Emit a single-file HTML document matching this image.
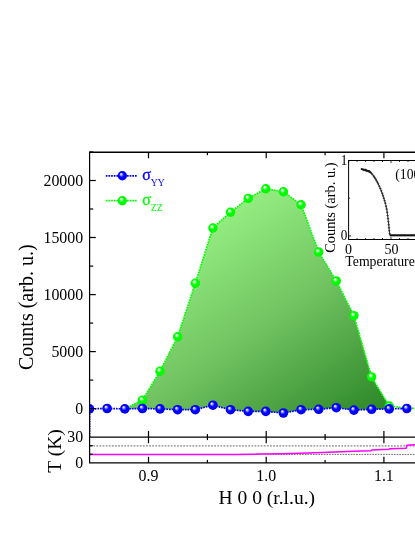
<!DOCTYPE html>
<html><head><meta charset="utf-8"><title>chart</title>
<style>
html,body{margin:0;padding:0;background:#fff;}
body{width:415px;height:537px;overflow:hidden;font-family:"Liberation Serif",serif;}
svg{display:block;will-change:transform;opacity:0.999;}
text{font-family:"Liberation Serif",serif;fill:#000;}
</style></head><body>
<svg width="415" height="537" viewBox="0 0 415 537">
<defs>
<radialGradient id="gb" cx="50%" cy="50%" r="50%" fx="35%" fy="30%">
<stop offset="0" stop-color="#ffffff"/><stop offset="0.16" stop-color="#c8c8ff"/><stop offset="0.36" stop-color="#4848ff"/><stop offset="0.52" stop-color="#0000ff"/><stop offset="0.9" stop-color="#0000fc"/><stop offset="1" stop-color="#0000e8"/>
</radialGradient>
<radialGradient id="gg" cx="50%" cy="50%" r="50%" fx="35%" fy="30%">
<stop offset="0" stop-color="#ffffff"/><stop offset="0.16" stop-color="#dcffdc"/><stop offset="0.36" stop-color="#58ff58"/><stop offset="0.52" stop-color="#00ff00"/><stop offset="0.9" stop-color="#00fc00"/><stop offset="1" stop-color="#00ee00"/>
</radialGradient>
<linearGradient id="fill" gradientUnits="userSpaceOnUse" x1="168" y1="249" x2="313.6" y2="464.8">
<stop offset="0" stop-color="#94ed81"/><stop offset="0.065" stop-color="#90e87d"/><stop offset="0.46" stop-color="#70c260"/><stop offset="0.66" stop-color="#56aa4a"/><stop offset="0.91" stop-color="#358f2e"/><stop offset="1" stop-color="#2a8526"/>
</linearGradient>
<clipPath id="cp"><rect x="89.6" y="152.2" width="340" height="284.8"/></clipPath>
</defs>
<rect width="415" height="537" fill="#fff"/>

<g clip-path="url(#cp)">
<polygon points="124.8,408.9 142.4,400.1 160.0,371.2 177.6,336.8 195.3,283.2 212.9,228.0 230.5,212.3 248.2,198.4 265.8,188.7 283.4,191.7 301.1,204.8 318.7,251.9 336.3,280.9 353.9,315.6 371.6,376.9 389.2,406.0 389.2,408.9 371.6,409.3 353.9,410.1 336.3,407.7 318.7,409.3 301.1,409.7 283.4,413.0 265.8,411.4 248.2,411.4 230.5,409.7 212.9,405.2 195.3,409.7 177.6,409.7 160.0,408.9 142.4,408.5 124.8,408.9" fill="url(#fill)"/>
<polyline points="124.8,408.9 142.4,400.1 160.0,371.2 177.6,336.8 195.3,283.2 212.9,228.0 230.5,212.3 248.2,198.4 265.8,188.7 283.4,191.7 301.1,204.8 318.7,251.9 336.3,280.9 353.9,315.6 371.6,376.9 389.2,406.0 406.8,408.2 424.5,408.6" fill="none" stroke="#00ff00" stroke-width="1.7" stroke-dasharray="1.7 0.95"/>
<polyline points="89.5,408.9 107.1,408.5 124.8,408.9 142.4,408.5 160.0,408.9 177.6,409.7 195.3,409.7 212.9,405.2 230.5,409.7 248.2,411.4 265.8,411.4 283.4,413.0 301.1,409.7 318.7,409.3 336.3,407.7 353.9,410.1 371.6,409.3 389.2,408.9 406.8,408.5" fill="none" stroke="#0000ff" stroke-width="1.7" stroke-dasharray="1.7 0.95"/> 424.5,408.8
<line x1="90" y1="409" x2="90" y2="437" stroke="#0000ff" stroke-width="1" stroke-dasharray="1.2 1.2"/>
<circle cx="142.4" cy="400.1" r="4.7" fill="url(#gg)"/>
<circle cx="160.0" cy="371.2" r="4.7" fill="url(#gg)"/>
<circle cx="177.6" cy="336.8" r="4.7" fill="url(#gg)"/>
<circle cx="195.3" cy="283.2" r="4.7" fill="url(#gg)"/>
<circle cx="212.9" cy="228.0" r="4.7" fill="url(#gg)"/>
<circle cx="230.5" cy="212.3" r="4.7" fill="url(#gg)"/>
<circle cx="248.2" cy="198.4" r="4.7" fill="url(#gg)"/>
<circle cx="265.8" cy="188.7" r="4.7" fill="url(#gg)"/>
<circle cx="283.4" cy="191.7" r="4.7" fill="url(#gg)"/>
<circle cx="301.1" cy="204.8" r="4.7" fill="url(#gg)"/>
<circle cx="318.7" cy="251.9" r="4.7" fill="url(#gg)"/>
<circle cx="336.3" cy="280.9" r="4.7" fill="url(#gg)"/>
<circle cx="353.9" cy="315.6" r="4.7" fill="url(#gg)"/>
<circle cx="371.6" cy="376.9" r="4.7" fill="url(#gg)"/>
<circle cx="389.2" cy="406.0" r="4.7" fill="url(#gg)"/>
<circle cx="89.5" cy="408.9" r="4.8" fill="url(#gb)"/>
<circle cx="107.1" cy="408.5" r="4.8" fill="url(#gb)"/>
<circle cx="124.8" cy="408.9" r="4.8" fill="url(#gb)"/>
<circle cx="142.4" cy="408.5" r="4.8" fill="url(#gb)"/>
<circle cx="160.0" cy="408.9" r="4.8" fill="url(#gb)"/>
<circle cx="177.6" cy="409.7" r="4.8" fill="url(#gb)"/>
<circle cx="195.3" cy="409.7" r="4.8" fill="url(#gb)"/>
<circle cx="212.9" cy="405.2" r="4.8" fill="url(#gb)"/>
<circle cx="230.5" cy="409.7" r="4.8" fill="url(#gb)"/>
<circle cx="248.2" cy="411.4" r="4.8" fill="url(#gb)"/>
<circle cx="265.8" cy="411.4" r="4.8" fill="url(#gb)"/>
<circle cx="283.4" cy="413.0" r="4.8" fill="url(#gb)"/>
<circle cx="301.1" cy="409.7" r="4.8" fill="url(#gb)"/>
<circle cx="318.7" cy="409.3" r="4.8" fill="url(#gb)"/>
<circle cx="336.3" cy="407.7" r="4.8" fill="url(#gb)"/>
<circle cx="353.9" cy="410.1" r="4.8" fill="url(#gb)"/>
<circle cx="371.6" cy="409.3" r="4.8" fill="url(#gb)"/>
<circle cx="389.2" cy="408.9" r="4.8" fill="url(#gb)"/>
<circle cx="406.8" cy="408.5" r="4.8" fill="url(#gb)"/>
</g>
<line x1="90.2" y1="445.9" x2="415" y2="445.9" stroke="#a6a6a6" stroke-width="1.7" stroke-dasharray="1.8 1.3"/>
<line x1="240.0" y1="454.4" x2="415" y2="454.4" stroke="#555" stroke-width="0.85" stroke-dasharray="1.7 1"/>
<polyline points="89.7,454.4 235.0,454.4 260.0,454.1 282.0,453.8 300.0,453.2 322.0,452.4 335.0,451.9 354.0,451.2 371.0,450.7 372.0,450.1 389.0,449.2 390.0,448.7 406.0,448.2 407.0,445.3 415.0,444.7" fill="none" stroke="#ff00ff" stroke-width="1.5"/>
<g stroke="#000" stroke-width="1.22" fill="none">
<line x1="89.6" y1="152.2" x2="89.6" y2="462.9"/>
<line x1="89.0" y1="152.2" x2="415" y2="152.2" stroke-width="1.35"/>
<line x1="89.0" y1="437.1" x2="415" y2="437.1" stroke-width="1.35"/>
<line x1="89.0" y1="462.9" x2="415" y2="462.9" stroke-width="1.35"/>
<line x1="89.6" y1="408.6" x2="95.8" y2="408.6"/>
<line x1="89.6" y1="380.1" x2="93.2" y2="380.1"/>
<line x1="89.6" y1="351.6" x2="95.8" y2="351.6"/>
<line x1="89.6" y1="323.1" x2="93.2" y2="323.1"/>
<line x1="89.6" y1="294.6" x2="95.8" y2="294.6"/>
<line x1="89.6" y1="266.1" x2="93.2" y2="266.1"/>
<line x1="89.6" y1="237.5" x2="95.8" y2="237.5"/>
<line x1="89.6" y1="209.0" x2="93.2" y2="209.0"/>
<line x1="89.6" y1="180.5" x2="95.8" y2="180.5"/>
<line x1="89.6" y1="152.0" x2="93.2" y2="152.0"/>
<line x1="89.6" y1="454.3" x2="92.8" y2="454.3"/>
<line x1="89.6" y1="445.7" x2="92.8" y2="445.7"/>
<line x1="148.5" y1="152.2" x2="148.5" y2="158.3"/>
<line x1="148.5" y1="430.9" x2="148.5" y2="443.2"/>
<line x1="148.5" y1="456.8" x2="148.5" y2="462.9"/>
<line x1="207.4" y1="152.2" x2="207.4" y2="155.2"/>
<line x1="207.4" y1="434.1" x2="207.4" y2="440.1"/>
<line x1="207.4" y1="459.9" x2="207.4" y2="462.9"/>
<line x1="266.2" y1="152.2" x2="266.2" y2="158.3"/>
<line x1="266.2" y1="430.9" x2="266.2" y2="443.2"/>
<line x1="266.2" y1="456.8" x2="266.2" y2="462.9"/>
<line x1="325.1" y1="152.2" x2="325.1" y2="155.2"/>
<line x1="325.1" y1="434.1" x2="325.1" y2="440.1"/>
<line x1="325.1" y1="459.9" x2="325.1" y2="462.9"/>
<line x1="383.9" y1="152.2" x2="383.9" y2="158.3"/>
<line x1="383.9" y1="430.9" x2="383.9" y2="443.2"/>
<line x1="383.9" y1="456.8" x2="383.9" y2="462.9"/>
<line x1="442.7" y1="152.2" x2="442.7" y2="155.2"/>
<line x1="442.7" y1="434.1" x2="442.7" y2="440.1"/>
<line x1="442.7" y1="459.9" x2="442.7" y2="462.9"/>
</g>
<text x="83.2" y="414.0" font-size="15.9" text-anchor="end">0</text>
<text x="83.2" y="357.0" font-size="15.9" text-anchor="end">5000</text>
<text x="83.2" y="300.0" font-size="15.9" text-anchor="end">10000</text>
<text x="83.2" y="242.9" font-size="15.9" text-anchor="end">15000</text>
<text x="83.2" y="185.9" font-size="15.9" text-anchor="end">20000</text>
<text x="83.2" y="441.9" font-size="15.9" text-anchor="end">30</text>
<text x="83.2" y="468.0" font-size="15.9" text-anchor="end">0</text>
<text x="148.5" y="480.5" font-size="15.9" text-anchor="middle">0.9</text>
<text x="266.2" y="480.5" font-size="15.9" text-anchor="middle">1.0</text>
<text x="383.9" y="480.5" font-size="15.9" text-anchor="middle">1.1</text>
<text x="266.8" y="503.9" font-size="19.5" text-anchor="middle">H 0 0 (r.l.u.)</text>
<text transform="translate(32.8,307.2) rotate(-90)" font-size="20" text-anchor="middle">Counts (arb. u.)</text>
<text transform="translate(61,451) rotate(-90)" font-size="19.5" text-anchor="middle">T (K)</text>
<line x1="105.8" y1="175.8" x2="137.7" y2="175.8" stroke="#0000ff" stroke-width="1.7" stroke-dasharray="1.7 0.95"/>
<circle cx="122.3" cy="175.8" r="4.7" fill="url(#gb)"/>
<text x="142.2" y="179.8" font-size="16" style="fill:#0000ff;stroke:#0000ff;stroke-width:0.3">σ<tspan font-size="9.7" dy="6.3" stroke="none">YY</tspan></text>
<line x1="105.8" y1="200.7" x2="137.7" y2="200.7" stroke="#00ff00" stroke-width="1.7" stroke-dasharray="1.7 0.95"/>
<circle cx="122.3" cy="200.7" r="4.7" fill="url(#gg)"/>
<text x="142.2" y="204.7" font-size="16" style="fill:#00ff00;stroke:#00ff00;stroke-width:0.3">σ<tspan font-size="9.7" dy="6.3" stroke="none">ZZ</tspan></text>
<rect x="348.6" y="160.5" width="80" height="79.0" fill="#fff" stroke="none"/>
<g stroke="#000" stroke-width="1" fill="none">
<line x1="348.6" y1="160.0" x2="348.6" y2="240.0"/>
<line x1="348.6" y1="160.5" x2="415" y2="160.5"/>
<line x1="348.6" y1="239.5" x2="415" y2="239.5"/>
<line x1="348.6" y1="239.5" x2="348.6" y2="236.9" stroke-width="0.8"/>
<line x1="348.6" y1="160.5" x2="348.6" y2="163.1" stroke-width="0.8"/>
<line x1="357.1" y1="239.5" x2="357.1" y2="238.0" stroke-width="0.8"/>
<line x1="357.1" y1="160.5" x2="357.1" y2="162.0" stroke-width="0.8"/>
<line x1="365.6" y1="239.5" x2="365.6" y2="238.0" stroke-width="0.8"/>
<line x1="365.6" y1="160.5" x2="365.6" y2="162.0" stroke-width="0.8"/>
<line x1="374.0" y1="239.5" x2="374.0" y2="238.0" stroke-width="0.8"/>
<line x1="374.0" y1="160.5" x2="374.0" y2="162.0" stroke-width="0.8"/>
<line x1="382.5" y1="239.5" x2="382.5" y2="238.0" stroke-width="0.8"/>
<line x1="382.5" y1="160.5" x2="382.5" y2="162.0" stroke-width="0.8"/>
<line x1="391.0" y1="239.5" x2="391.0" y2="236.9" stroke-width="0.8"/>
<line x1="391.0" y1="160.5" x2="391.0" y2="163.1" stroke-width="0.8"/>
<line x1="399.5" y1="239.5" x2="399.5" y2="238.0" stroke-width="0.8"/>
<line x1="399.5" y1="160.5" x2="399.5" y2="162.0" stroke-width="0.8"/>
<line x1="408.0" y1="239.5" x2="408.0" y2="238.0" stroke-width="0.8"/>
<line x1="408.0" y1="160.5" x2="408.0" y2="162.0" stroke-width="0.8"/>
<line x1="348.6" y1="235.9" x2="351.2" y2="235.9" stroke-width="0.8"/>
<line x1="348.6" y1="198.2" x2="350.1" y2="198.2" stroke-width="0.8"/>
<line x1="348.6" y1="160.5" x2="351.2" y2="160.5" stroke-width="0.8"/>
</g>
<polyline points="361.8,169.3 363.6,169.9 366.0,170.6 368.5,171.5 370.8,172.7 373.2,175.4 375.6,179.0 378.0,183.4 380.3,188.5 382.4,193.8 384.3,199.6 385.6,204.2 386.7,209.1 387.5,214.5 388.2,220.2 388.8,225.2 389.2,229.7 389.8,234.7" fill="none" stroke="#333" stroke-width="1.0" stroke-linejoin="round"/>
<path d="M362.4 169.9h2.4M363.6 168.7v2.4M364.2 170.4h2.4M365.4 169.2v2.4M365.8 171.0h2.4M367.0 169.8v2.4M367.8 171.7h2.4M369.0 170.5v2.4M369.6 172.7h2.4M370.8 171.5v2.4M371.0 174.2h2.4M372.2 173.0v2.4M372.3 175.8h2.4M373.5 174.7v2.4M373.2 177.2h2.4M374.4 176.0v2.4M374.1 178.6h2.4M375.3 177.4v2.4M375.1 180.3h2.4M376.3 179.1v2.4M376.1 182.1h2.4M377.3 180.9v2.4M377.0 183.9h2.4M378.2 182.7v2.4M378.1 186.2h2.4M379.3 185.0v2.4M379.1 188.5h2.4M380.3 187.3v2.4M380.1 190.9h2.4M381.3 189.7v2.4M381.0 193.3h2.4M382.2 192.1v2.4M381.8 195.7h2.4M383.0 194.5v2.4M382.6 198.2h2.4M383.8 197.0v2.4M383.4 200.6h2.4M384.6 199.4v2.4M384.1 203.2h2.4M385.3 202.0v2.4M384.8 206.2h2.4M386.0 205.0v2.4M385.5 209.1h2.4M386.7 207.9v2.4M386.0 212.3h2.4M387.2 211.1v2.4M386.4 215.5h2.4M387.6 214.3v2.4M386.8 218.6h2.4M388.0 217.4v2.4M387.2 221.7h2.4M388.4 220.5v2.4M387.5 224.7h2.4M388.7 223.5v2.4M387.8 227.7h2.4M389.0 226.5v2.4M388.1 230.7h2.4M389.3 229.5v2.4M388.5 233.7h2.4M389.7 232.5v2.4" stroke="#222" stroke-width="0.7" fill="none"/>
<path d="M361.6 169 L364 169.9 L365.5 169.6 L367 170.8 L369 171 L370.6 172.4" stroke="#1a1a1a" stroke-width="1.9" fill="none" stroke-linecap="round" stroke-linejoin="round"/>
<line x1="389.6" y1="235.3" x2="415" y2="235.3" stroke="#111" stroke-width="2.1"/>
<text transform="translate(347.4,164.6) scale(0.9,1)" font-size="14.6" text-anchor="end">1</text>
<text transform="translate(347.4,240.1) scale(0.9,1)" font-size="14.6" text-anchor="end">0</text>
<text x="348.5" y="253.5" font-size="14" text-anchor="middle">0</text>
<text x="391.6" y="253.5" font-size="14" text-anchor="middle">50</text>
<text x="345.3" y="265.6" font-size="13.8">Temperature (K)</text>
<text transform="translate(334.6,207.7) rotate(-90)" font-size="14.4" text-anchor="middle">Counts (arb. u.)</text>
<text x="395.3" y="178.7" font-size="13.7">(100)</text>
</svg></body></html>
